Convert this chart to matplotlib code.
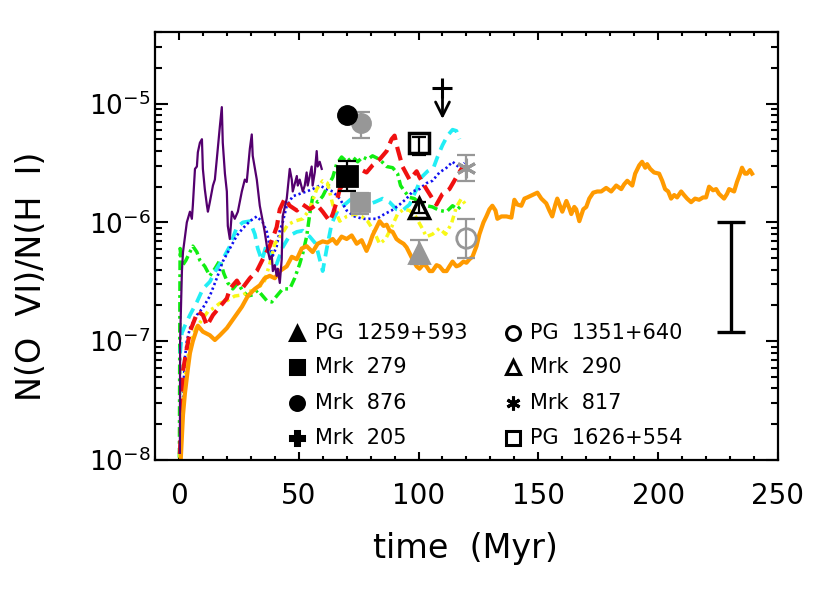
import numpy as np
import matplotlib
matplotlib.use("Agg")
import matplotlib.pyplot as plt
from matplotlib.ticker import FixedLocator, LogLocator, FuncFormatter, MultipleLocator, NullFormatter

plt.rcParams['font.family'] = ['DejaVu Sans']
plt.rcParams['lines.scale_dashes'] = False

# ---------------- data (time in Myr, log10 N(OVI)/N(HI)) ----------------
orange_t = [0.8, 1.7, 2.5, 3.75, 4.6, 5.8, 7.9, 10, 12.9, 15, 17.1, 20, 22.1, 24.2, 26.3, 28.75,
            31.7, 33.75, 35.8, 37.9, 40, 42.1, 45, 47.1, 49.2, 51.25, 53.3, 55.8, 57.9, 60, 62,
            64.2, 65.8, 67.9, 70, 72.1, 74.2, 76.25, 78.3, 79.6, 80.8, 82.5, 83.75, 85.4, 86.7,
            87.9, 89.2, 90.8, 92.1, 93.75, 95, 96.25, 97.5, 99.2, 100.4, 102.1, 103.3, 104.6,
            105.8, 107.5, 108.75, 110.4, 111.7, 112.9, 114.2, 115.8, 117.1, 118.75, 120, 121.25,
            122.5, 124.2, 125.4, 127.1, 128.3, 129.6, 130.8, 132.1, 132.9, 134.6, 136.7, 138.75,
            140, 141.25, 142.9, 144.2, 145.4, 147.5, 149.6, 151.25, 153.3, 154.6, 155.8, 157.1,
            157.9, 159.2, 160, 161.7, 162.9, 163.75, 165, 165.8, 167.1, 168.75, 170, 171.25,
            172.9, 174.6, 176.25, 178.3, 180.4, 182.5, 184.6, 185.8, 187.1, 189.2, 190.4, 192.1,
            193.3, 194.6, 195.4, 196.7, 198.3, 200.4, 201.7, 202.9, 204.2, 205.4, 206.7, 207.9,
            209.6, 210.8, 212.1, 213.75, 215.4, 217.1, 218.75, 220, 221.25, 222.9, 224.2, 225.4,
            227.5, 228.75, 229.6, 231.7, 232.9, 234.2, 235, 236.25, 237.1, 238.3, 239.2]
orange_logr = [-7.98, -7.62, -7.44, -7.23, -7.10, -7.00, -6.87, -6.92, -6.95, -6.99, -6.95, -6.89,
               -6.83, -6.77, -6.71, -6.62, -6.56, -6.53, -6.47, -6.45, -6.47, -6.41, -6.37, -6.29,
               -6.31, -6.22, -6.20, -6.25, -6.18, -6.16, -6.17, -6.14, -6.18, -6.12, -6.14, -6.11,
               -6.18, -6.15, -6.24, -6.18, -6.11, -6.04, -5.99, -6.03, -6.02, -6.07, -6.08, -6.14,
               -6.16, -6.18, -6.21, -6.26, -6.31, -6.37, -6.39, -6.35, -6.37, -6.41, -6.41, -6.36,
               -6.37, -6.41, -6.41, -6.37, -6.33, -6.37, -6.36, -6.33, -6.34, -6.31, -6.29, -6.20,
               -6.10, -6.00, -5.95, -5.89, -5.86, -5.90, -5.97, -5.95, -5.95, -5.96, -5.81, -5.85,
               -5.86, -5.80, -5.79, -5.77, -5.75, -5.80, -5.84, -5.90, -5.95, -5.85, -5.80, -5.87,
               -5.91, -5.82, -5.88, -5.93, -5.87, -5.89, -5.99, -5.89, -5.87, -5.80, -5.75, -5.74,
               -5.74, -5.71, -5.74, -5.69, -5.72, -5.68, -5.65, -5.69, -5.59, -5.52, -5.49, -5.54,
               -5.51, -5.55, -5.58, -5.59, -5.65, -5.72, -5.74, -5.80, -5.77, -5.79, -5.74, -5.77,
               -5.80, -5.83, -5.80, -5.81, -5.79, -5.79, -5.70, -5.73, -5.72, -5.76, -5.80, -5.76,
               -5.72, -5.74, -5.66, -5.59, -5.54, -5.59, -5.59, -5.56, -5.59]

purple_t = [0.4, 0.5, 1.25, 1.7, 3.3, 4.6, 5.4, 5.8, 6.7, 7.5, 7.9, 8.75, 9.6, 10, 10.8, 11.7,
            12.1, 12.9, 14.2, 15, 15.8, 17.1, 17.9, 18.3, 19.2, 20, 20.4, 21.25, 22.1, 23.3, 24.6,
            26.25, 27.5, 28.3, 29.6, 30.4, 30.8, 32.5, 33.75, 34.6, 35.8, 36.7, 37.9, 38.75, 39.2,
            40, 40.8, 41.25, 42.1, 42.9, 43.3, 45, 46.25, 47.1, 47.5, 49.2, 49.6, 50.4, 51.7,
            52.5, 53.3, 53.75, 54.6, 55.4, 55.8, 56.7, 57.5, 57.9, 58.75, 59.6]
purple_logr = [-7.94, -7.00, -6.41, -6.25, -6.00, -5.91, -5.97, -5.86, -5.55, -5.53, -5.41, -5.33,
               -5.30, -5.55, -5.72, -5.86, -5.91, -5.83, -5.69, -5.64, -5.47, -5.19, -5.03, -5.33,
               -5.59, -5.74, -6.03, -6.14, -5.91, -5.97, -5.91, -5.74, -5.64, -5.66, -5.38, -5.26,
               -5.44, -5.64, -5.86, -5.95, -6.08, -6.20, -6.31, -6.28, -6.41, -6.36, -6.45, -6.39,
               -6.51, -6.31, -5.95, -5.80, -5.55, -5.64, -5.74, -5.61, -5.69, -5.64, -5.74, -5.69,
               -5.58, -5.69, -5.61, -5.53, -5.69, -5.58, -5.40, -5.53, -5.49, -5.55]

red_t = [0.4, 1.25, 1.7, 3.3, 4.6, 6.7, 7.9, 10, 11.7, 14.2, 17.1, 20, 21.25, 24.2, 26.25, 29.6,
         32.5, 35, 37.9, 40.8, 42.1, 44.2, 46.25, 49.2, 51.7, 54.6, 57.5, 60, 62.9, 64.2, 65.8,
         67.1, 70, 72.5, 75.4, 78.3, 80.8, 83.75, 86.7, 88.75, 90, 91.25, 93.3, 96.25, 99.2,
         100.4, 103.3, 105.8, 107.5, 110, 112.9, 115.8, 117.9, 120]
red_logr = [-7.95, -7.56, -7.25, -7.06, -6.92, -6.81, -6.75, -6.78, -6.87, -6.78, -6.71, -6.64,
            -6.56, -6.49, -6.56, -6.47, -6.41, -6.31, -6.20, -6.04, -5.89, -5.80, -5.86, -5.90,
            -5.85, -5.89, -5.85, -5.91, -5.99, -5.93, -5.83, -5.72, -5.64, -5.58, -5.55, -5.58,
            -5.52, -5.47, -5.40, -5.30, -5.27, -5.38, -5.53, -5.64, -5.57, -5.62, -5.72, -5.80,
            -5.85, -5.76, -5.72, -5.62, -5.55, -5.53]

cyan_t = [0.5, 1.25, 2.5, 4.6, 7.5, 10, 12.9, 15.8, 18.3, 21.25, 24.2, 26.7, 29.6, 31.7, 32.9,
          34.6, 36.7, 38.75, 40.8, 43.3, 46.25, 49.2, 51.7, 54.6, 57.1, 58.75, 60, 61.7, 63.75,
          66.25, 69.2, 72.1, 75.4, 78.75, 81.7, 85, 87.9, 90.8, 93.3, 96.25, 99.2, 101.25,
          103.75, 106.25, 107.9, 110, 112.1, 114.2, 115.8, 117.1]
cyan_logr = [-7.10, -6.93, -6.87, -6.78, -6.67, -6.56, -6.50, -6.39, -6.31, -6.20, -6.04, -6.00,
             -5.99, -6.10, -6.22, -6.32, -6.18, -6.29, -6.35, -6.21, -6.11, -6.08, -6.07, -6.12,
             -6.18, -6.31, -6.41, -6.22, -6.01, -5.90, -5.85, -5.80, -5.79, -5.85, -5.83, -5.80,
             -5.83, -5.89, -5.90, -5.85, -5.72, -5.62, -5.57, -5.54, -5.45, -5.35, -5.27, -5.22,
             -5.23, -5.30]

blue_t = [0.8, 1.7, 2.5, 3.3, 4.6, 7.5, 10, 12.9, 15.8, 18.3, 21.25, 24.2, 26.7, 29.6, 32.5, 35,
          36.7, 37.9, 39.2, 40.8, 42.1, 43.3, 45, 47.5, 50.4, 53.3, 55.8, 58.75, 61.7, 64.2,
          67.1, 70, 73.3, 76.7, 79.6, 82.5, 85.8, 88.75, 92.1, 95, 97.5, 100.4, 103.3, 105.8,
          108.75, 111.7, 114.2, 117.1, 119.2]
blue_logr = [-7.94, -7.48, -7.14, -7.00, -6.89, -6.78, -6.72, -6.62, -6.47, -6.33, -6.22, -6.11,
             -6.05, -5.99, -5.95, -6.00, -6.08, -6.20, -6.28, -6.20, -6.07, -6.00, -5.86, -5.78,
             -5.76, -5.74, -5.72, -5.69, -5.72, -5.74, -5.80, -5.90, -5.95, -5.97, -5.97, -5.97,
             -5.93, -5.90, -5.85, -5.80, -5.74, -5.72, -5.67, -5.65, -5.58, -5.54, -5.49, -5.54,
             -5.50]

green_t = [0.2, 0.4, 0.5, 1.25, 2.9, 5.8, 7.5, 8.75, 10.8, 12.9, 15, 17.1, 18.75, 20.4, 22.5,
           24.6, 26.7, 28.75, 30.8, 32.9, 35, 36.7, 38.75, 40.8, 43.3, 46.25, 48.3, 50.4, 51.7,
           53.3, 54.6, 55.8, 57.9, 60, 62, 64.2, 65.8, 67.9, 70, 72.5, 74.6, 76.7, 78.75, 80.8,
           83.75, 86.7, 89.2, 91.25, 92.5, 94.2, 96.25, 98.3, 100.4, 103.3, 105.8, 108.75, 111.7,
           114.2, 116.25, 118.3]
green_logr = [-7.98, -6.64, -6.22, -6.37, -6.32, -6.20, -6.25, -6.32, -6.37, -6.45, -6.39, -6.32,
              -6.43, -6.51, -6.56, -6.51, -6.58, -6.62, -6.61, -6.57, -6.62, -6.66, -6.67, -6.62,
              -6.56, -6.56, -6.47, -6.35, -6.26, -6.12, -5.93, -5.79, -5.83, -5.78, -5.70, -5.62,
              -5.51, -5.45, -5.49, -5.45, -5.49, -5.45, -5.47, -5.44, -5.47, -5.53, -5.54, -5.59,
              -5.69, -5.74, -5.79, -5.80, -5.84, -5.86, -5.87, -5.90, -5.91, -5.86, -5.89, -5.85]

yellow_t = [0.4, 1.25, 2.5, 4.6, 7.1, 9.6, 12.1, 14.6, 17.1, 20, 23.3, 26.7, 29.6, 32.9, 35.8,
            37.9, 40, 42.9, 45.4, 48.3, 51.7, 54.6, 57.5, 60, 62, 64.2, 67.1, 70, 73.3, 76.25,
            78.75, 81.25, 83.75, 86.25, 88.75, 91.25, 93.75, 96.25, 98.75, 101.25, 103.3, 105.8,
            108.75, 111.25, 113.75, 115.8, 117.9, 119.6]
yellow_logr = [-7.98, -7.64, -7.31, -7.02, -6.89, -6.82, -6.75, -6.72, -6.68, -6.66, -6.62, -6.61,
               -6.58, -6.56, -6.49, -6.35, -6.18, -6.10, -6.02, -5.99, -5.97, -5.89, -5.72, -5.65,
               -5.67, -5.85, -5.99, -5.95, -5.93, -5.95, -5.99, -6.07, -6.18, -6.14, -6.04, -5.93,
               -5.89, -5.90, -5.95, -6.04, -6.12, -6.10, -6.05, -6.10, -6.01, -5.87, -5.80, -5.85]

# observations: time, log10 ratio, lower / upper error (dex)
obs_names = ['PG 1259+593', 'Mrk 279', 'Mrk 876', 'Mrk 205',
             'PG 1351+640', 'Mrk 290', 'Mrk 817', 'PG 1626+554']
mrk876_black = (70, -5.10)
mrk876_gray = (76, -5.16, 0.13, 0.085)
mrk279_black = (70, -5.61, 0.13, 0.13)
mrk279_gray = (75.5, -5.83, 0.10, 0.08)
pg1626 = (100, -5.33, 0.10, 0.05)
mrk290 = (100, -5.875, 0.05, 0.05)
pg1259 = (100, -6.26, 0.09, 0.11)
pg1351 = (120, -6.13, 0.17, 0.16)
mrk817 = (120, -5.54, 0.11, 0.11)
mrk205_limit = (110, -4.87, -5.13)
model_err = (230.5, -6.0, -6.92)   # top, bottom of typical uncertainty

GRAY = '#979797'

# ---------------- figure ----------------
fig = plt.figure(figsize=(8.3, 5.93), dpi=100)
ax = fig.add_axes([0.1867, 0.2243, 0.7506, 0.7217])

def P(a):
    return 10.0 ** np.asarray(a, dtype=float)

ax.plot(green_t, P(green_logr), color='#11ee11', lw=2.5, dashes=(7, 3, 2, 3))
ax.plot(cyan_t, P(cyan_logr), color='#22eef5', lw=2.7, dashes=(8, 5))
ax.plot(blue_t, P(blue_logr), color='#1010f0', lw=1.9, dashes=(1.6, 2.0))
ax.plot(yellow_t, P(yellow_logr), color='#f8f818', lw=2.5, dashes=(5, 3, 2, 3))
ax.plot(red_t, P(red_logr), color='#f01010', lw=3.0, dashes=(10, 5))
ax.plot(orange_t, P(orange_logr), color='#ff9a00', lw=3.0, solid_joinstyle='round')
ax.plot(purple_t, P(purple_logr), color='#54006e', lw=1.6)

def eb(pt, color, marker, ms, mfc, mew=2.0, capsize=6.5):
    t, v, lo, hi = pt
    ax.errorbar([t], [10 ** v], yerr=[[10 ** v - 10 ** (v - lo)], [10 ** (v + hi) - 10 ** v]],
                fmt='none', ecolor=color, elinewidth=1.6, capsize=capsize, capthick=1.6, zorder=5)
    ax.plot([t], [10 ** v], marker=marker, ms=ms, mfc=mfc, mec=color, mew=mew, ls='none', zorder=6)

# gray points
eb(mrk876_gray, GRAY, 'o', 13, GRAY)
eb(mrk279_gray, GRAY, 's', 13, GRAY)
eb(pg1259, GRAY, '^', 14, GRAY)
eb(pg1351, GRAY, 'o', 14, 'none', mew=2.0)
eb(mrk817, GRAY, (6, 2, 0), 14, GRAY, mew=2.2)
# black points
ax.plot([mrk876_black[0]], [10 ** mrk876_black[1]], 'o', ms=14, color='black', zorder=7)
eb(mrk279_black, 'black', 's', 14, 'black')
eb(pg1626, 'black', 's', 15, 'none', mew=2.5, capsize=5)
eb(mrk290, 'black', '^', 15, 'none', mew=2.5, capsize=5)
# Mrk 205 upper limit
t205, top205, bot205 = mrk205_limit
ax.plot([t205], [10 ** top205], marker='+', ms=15, mew=2.2, color='black', zorder=7)
ax.annotate('', xy=(t205, 10 ** bot205), xytext=(t205, 10 ** top205),
            arrowprops=dict(arrowstyle='->', lw=2.0, color='black', mutation_scale=25,
                            shrinkA=0, shrinkB=0), zorder=7)
# typical error bar
tm, topm, botm = model_err
midm = (topm + botm) / 2
ax.errorbar([tm], [10 ** midm],
            yerr=[[10 ** midm - 10 ** botm], [10 ** topm - 10 ** midm]],
            fmt='none', ecolor='black', elinewidth=2.4, capsize=10, capthick=2.4)

# ---------------- legend (manual) ----------------
leg_left = [('^', 'black', 'black', 'PG  1259+593'), ('s', 'black', 'black', 'Mrk  279'),
            ('o', 'black', 'black', 'Mrk  876'), ('P', 'black', 'black', 'Mrk  205')]
leg_right = [('o', 'none', 'black', 'PG  1351+640'), ('^', 'none', 'black', 'Mrk  290'),
             ((6, 2, 0), 'black', 'black', 'Mrk  817'), ('s', 'none', 'black', 'PG  1626+554')]
rows_y = [0.297, 0.217, 0.133, 0.051]
for col, (mx, tx) in zip([leg_left, leg_right], [(0.228, 0.257), (0.575, 0.602)]):
    for (mk, fc, ec, lab), yy in zip(col, rows_y):
        ax.plot([mx], [yy], marker=mk, ms=10, mfc=fc, mec=ec, mew=2.2, ls='none',
                transform=ax.transAxes, clip_on=False, zorder=8)
        ax.text(tx, yy, lab, transform=ax.transAxes, fontsize=15, va='center', ha='left')

# ---------------- axes ----------------
ax.set_xlim(-10, 250)
ax.set_yscale('log')
ax.set_ylim(1e-8, 4e-5)
ax.xaxis.set_major_locator(MultipleLocator(50))
ax.xaxis.set_minor_locator(MultipleLocator(10))
ax.yaxis.set_major_locator(FixedLocator([1e-8, 1e-7, 1e-6, 1e-5]))
ax.yaxis.set_minor_locator(LogLocator(base=10, subs=np.arange(2, 10)))
ax.yaxis.set_minor_formatter(NullFormatter())
ax.yaxis.set_major_formatter(FuncFormatter(lambda v, p: r'$\mathregular{10^{%d}}$' % int(round(np.log10(v)))))

for s in ax.spines.values():
    s.set_linewidth(1.6)
ax.tick_params(axis='both', which='both', direction='in', top=True, right=True, width=1.5)
ax.tick_params(axis='x', which='major', length=6, pad=16, labelsize=20)
ax.tick_params(axis='x', which='minor', length=3)
ax.tick_params(axis='y', which='major', length=9, pad=3, labelsize=19)
ax.tick_params(axis='y', which='minor', length=5)

ax.set_xlabel('time  (Myr)', fontsize=24)
ax.set_ylabel('N(O  VI)/N(H  I)', fontsize=24)
ax.xaxis.set_label_coords(0.499, -0.168)
ax.yaxis.set_label_coords(-0.172, 0.43)

fig.savefig('out.png', dpi=100)
